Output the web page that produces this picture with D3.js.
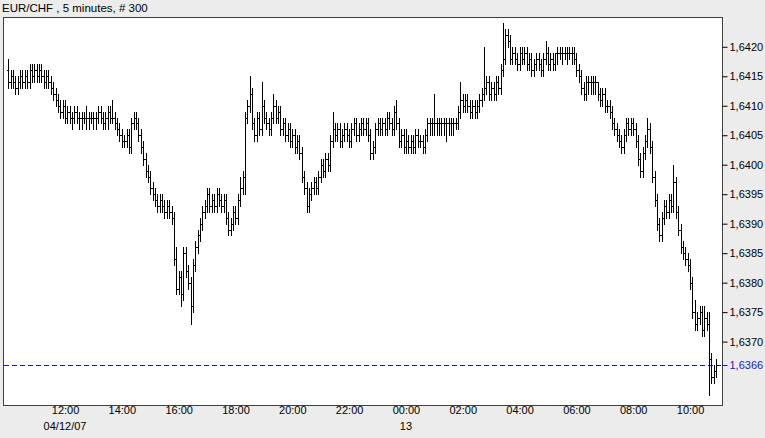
<!DOCTYPE html>
<html><head><meta charset="utf-8">
<script src="https://cdn.jsdelivr.net/npm/d3@7"></script>
<style>
html,body{margin:0;padding:0;background:#ececec;}
svg{display:block;font-family:"Liberation Sans",Arial,sans-serif;}
</style></head>
<body><svg id="c" width="765" height="438"></svg>
<script>
// Title
const title = "EUR/CHF , 5 minutes, # 300";
// First bar time and bar interval (5 minutes)
const firstBar = "2007-04-12T10:00:00Z";
const barMinutes = 5;
// Prices in pips above base (price = base + pips/10000)
const base = 1.6300;
const opens = [
116,114,115,114,113,114,115,114,115,114, 116,115,116,115,116,115,114,115,114,113,
112,111,110,109,110,108,109,108,108,109, 108,108,108,108,108,108,108,108,108,109,
108,107,108,109,108,108,107,106,105,104, 104,105,103,107,108,107,105,103,101,99,
98,96,95,94,93,94,93,92,93,92, 91,84,79,81,78,85,82,80,76,83,
86,88,90,92,93,95,93,94,93,95, 94,93,94,91,89,90,92,91,94,96,
98,108,110,112,107,105,108,106,110,108, 107,106,108,110,108,109,106,107,105,106,
104,105,103,104,102,98,96,93,95,96, 97,96,98,100,99,101,100,104,106,105,
106,104,105,106,105,104,106,107,105,106, 107,106,107,105,102,103,106,107,106,107,
106,108,107,106,109,107,104,105,103,104, 103,104,103,105,104,104,103,105,107,107,
107,107,107,107,107,107,107,107,107,107, 107,109,111,110,111,110,109,110,109,110,
111,112,113,114,112,113,112,114,113,116, 118,122,121,118,119,118,117,119,118,119,
117,118,116,117,118,117,116,118,119,117, 118,117,119,119,119,119,119,119,119,119,
118,116,115,113,112,114,114,114,114,114, 112,111,112,110,110,109,107,106,105,104,
103,105,107,106,107,106,104,101,99,102, 104,106,103,98,94,90,88,91,93,92,
94,93,97,92,89,86,85,84,83,80, 75,73,74,75,72,74,73,67,64,65];
const highs = [
118,116,116,115,115,116,116,116,116,117, 117,117,117,117,117,116,116,116,115,114,
113,112,111,111,111,110,110,109,110,110, 109,109,109,110,109,109,109,109,110,110,
109,109,110,110,111,109,108,107,106,105, 106,106,108,109,109,108,106,104,102,100,
99,97,96,95,95,95,94,94,94,93, 92,86,82,82,86,86,83,81,84,87,
89,91,93,94,96,96,95,95,96,96, 95,95,95,92,91,93,93,95,98,99,
109,111,115,113,108,109,109,114,111,109, 108,109,112,111,110,110,108,108,107,107,
106,106,105,105,103,99,97,96,97,98, 98,99,101,101,102,102,105,109,107,107,
107,106,107,107,106,107,108,108,107,108, 108,108,108,106,104,107,108,108,108,108,
109,109,108,110,111,108,106,106,106,105, 105,105,106,106,105,105,106,108,108,108,
112,108,108,108,108,108,108,108,108,108, 110,114,112,112,112,111,111,111,111,112,
113,120,115,115,114,114,115,115,117,124, 123,123,122,120,120,119,120,120,120,120,
119,119,118,119,119,118,119,121,120,119, 119,119,120,120,120,120,120,120,120,120,
119,117,116,114,115,115,115,115,115,114, 113,113,113,111,111,110,108,107,106,105,
106,108,108,108,108,107,105,102,103,105, 108,107,104,99,95,91,92,94,94,95,
95,100,98,93,90,87,86,85,84,81, 77,75,76,76,76,75,75,68,66,67];
const lows = [
113,113,113,112,112,113,113,113,113,113, 114,114,114,114,114,113,113,113,112,111,
110,109,108,108,107,107,107,106,107,107, 106,106,107,106,106,107,106,106,107,107,
106,106,106,107,107,106,105,104,103,103, 103,102,102,106,106,104,102,100,98,97,
95,94,93,92,92,92,91,91,91,90, 83,78,78,76,77,81,79,73,75,82,
85,87,89,91,92,92,92,92,92,93, 92,92,90,88,88,89,90,90,93,95,
95,107,109,106,104,104,105,105,107,106, 105,105,107,107,107,105,105,104,104,103,
103,102,102,101,97,95,92,92,94,95, 95,95,97,98,98,99,99,103,104,104,
103,103,104,104,103,103,105,104,104,105, 105,105,104,101,101,102,105,105,105,105,
105,106,105,105,106,103,103,102,102,102, 102,102,102,103,103,102,102,104,105,105,
105,105,105,105,105,104,105,105,105,106, 106,108,109,109,109,108,108,108,108,109,
110,111,112,111,111,111,111,112,112,115, 117,120,117,117,117,116,116,117,117,116,
116,115,115,116,116,115,115,117,116,116, 116,116,117,118,117,118,117,118,117,117,
115,114,112,111,111,112,112,112,112,111, 110,110,109,109,108,106,105,104,103,102,
102,104,105,105,105,103,100,98,98,101, 103,102,97,93,89,87,87,90,91,91,
92,92,91,88,85,84,83,82,79,74, 72,72,73,71,71,72,61,63,63,64];
const closes = [
114,115,114,113,114,115,114,115,114,116, 115,116,115,116,115,114,115,114,113,112,
111,110,109,110,108,109,108,108,109,108, 108,108,108,108,108,108,108,108,109,108,
107,108,109,108,108,107,106,105,104,104, 105,103,107,108,107,105,103,101,99,98,
96,95,94,93,94,93,92,93,92,91, 84,79,81,78,85,82,80,76,83,86,
88,90,92,93,95,93,94,93,95,94, 93,94,91,89,90,92,91,94,96,98,
108,110,112,107,105,108,106,110,108,107, 106,108,110,108,109,106,107,105,106,104,
105,103,104,102,98,96,93,95,96,97, 96,98,100,99,101,100,104,106,105,106,
104,105,106,105,104,106,107,105,106,107, 106,107,105,102,103,106,107,106,107,106,
108,107,106,109,107,104,105,103,104,103, 104,103,105,104,104,103,105,107,107,107,
107,107,107,107,107,107,107,107,107,107, 109,111,110,111,110,109,110,109,110,111,
112,113,114,112,113,112,114,113,116,118, 122,121,118,119,118,117,119,118,119,117,
118,116,117,118,117,116,118,119,117,118, 117,119,119,119,119,119,119,119,119,118,
116,115,113,112,114,114,114,114,114,112, 111,112,110,110,109,107,106,105,104,103,
105,107,106,107,106,104,101,99,102,104, 106,103,98,94,90,88,91,93,92,94,
93,97,92,89,86,85,84,83,80,75, 73,74,75,72,74,73,67,64,65,66];
// Axis tick values
const priceTicks = [1.6370,1.6375,1.6380,1.6385,1.6390,1.6395,1.6400,1.6405,1.6410,1.6415,1.6420];
const lastPriceLabel = 1.6366;
const dateLabels = [{time:"2007-04-12T12:00:00Z", text:"04/12/07"}, {time:"2007-04-13T00:00:00Z", text:"13"}];

const t0 = new Date(firstBar);
const bars = closes.map((c,i)=>({
  t: new Date(t0.getTime() + i*barMinutes*60000),
  o: base+opens[i]/10000, h: base+highs[i]/10000, l: base+lows[i]/10000, c: base+c/10000
}));

const svg = d3.select("#c");
const L = 3, R = 722, T = 17, B = 405;
const step = barMinutes*60000;
const x = d3.scaleUtc()
  .domain([new Date(t0.getTime() - 2.2*step), new Date(t0.getTime() + 301.5*step)])
  .range([L, R]);
const y = d3.scaleLinear().domain([1.635925, 1.642505]).range([B, T]);

// plot background
svg.append("rect").attr("x",L+0.5).attr("y",T+0.5).attr("width",R-L).attr("height",B-T)
  .attr("fill","#ffffff").attr("stroke","#404040").attr("stroke-width",1);

// title
svg.append("text").attr("x",2).attr("y",12).attr("font-size",11.5).attr("fill","#000").text(title);

// right axis
const fmt = v => d3.format(".4f")(v).replace(".", ",");
const yAxis = d3.axisRight(y).tickValues(priceTicks).tickSize(5).tickPadding(2).tickFormat(fmt);
const gy = svg.append("g").attr("transform",`translate(${R+0.5},0)`).call(yAxis);
gy.select(".domain").remove();
gy.selectAll(".tick line").attr("stroke","#000");
gy.selectAll(".tick text").attr("font-size",11).attr("font-family","Liberation Sans, Arial, sans-serif").attr("fill","#000");

// last price label
const blue = "#1818c0";
const yl = Math.round(y(lastPriceLabel))+0.5;
const gLast = svg.append("g").attr("transform",`translate(${R+0.5},${yl})`);
gLast.append("line").attr("x1",0).attr("x2",5).attr("stroke",blue);
gLast.append("text").attr("x",7).attr("dy","0.32em").attr("font-size",11).attr("fill",blue).text(fmt(lastPriceLabel));

// bottom axis labels (no tick marks)
const xAxis = d3.axisBottom(x).ticks(d3.utcHour.every(2)).tickSize(0).tickPadding(1)
  .tickFormat(d3.utcFormat("%H:%M"));
const gx = svg.append("g").attr("transform",`translate(0,${B})`).call(xAxis);
gx.select(".domain").remove();
gx.selectAll(".tick text").attr("font-size",11).attr("font-family","Liberation Sans, Arial, sans-serif").attr("fill","#000");
gx.selectAll(".tick").filter(d=> x(d) < L+20 || x(d) > R-10).remove();
svg.selectAll(".dlabel").data(dateLabels).enter().append("text").attr("class","dlabel")
  .attr("x",d=>x(new Date(d.time))).attr("y",430).attr("text-anchor","middle")
  .attr("font-size",11).attr("fill","#000").text(d=>d.text);

// dashed last-price line
svg.append("line").attr("x1",L+1).attr("x2",R).attr("y1",yl).attr("y2",yl)
  .attr("stroke",blue).attr("stroke-dasharray","5,3").attr("shape-rendering","crispEdges");

// OHLC bars
const g = svg.append("g").attr("stroke","#000").attr("stroke-width",1).attr("shape-rendering","crispEdges");
const px = d => Math.round(x(d.t)) + 0.5;
g.selectAll(".hl").data(bars).enter().append("line")
  .attr("x1",px).attr("x2",px).attr("y1",d=>Math.round(y(d.h))).attr("y2",d=>Math.round(y(d.l))+1);
g.selectAll(".op").data(bars).enter().append("line")
  .attr("x1",d=>px(d)-2).attr("x2",px).attr("y1",d=>Math.round(y(d.o))+0.5).attr("y2",d=>Math.round(y(d.o))+0.5);
g.selectAll(".cl").data(bars).enter().append("line")
  .attr("x1",px).attr("x2",d=>px(d)+2).attr("y1",d=>Math.round(y(d.c))+0.5).attr("y2",d=>Math.round(y(d.c))+0.5);
</script></body></html>
